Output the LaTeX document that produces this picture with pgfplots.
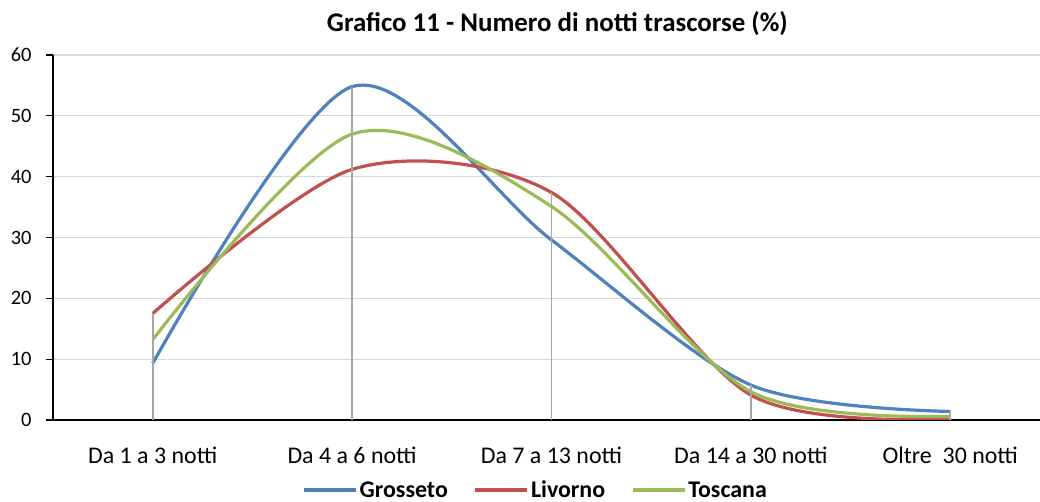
\documentclass[border=0pt]{standalone}
\usepackage{pgfplots}
\pgfplotsset{compat=1.18}
\usepackage{fontspec}
\setmainfont{Carlito}
\definecolor{cblue}{HTML}{4F81BD}
\definecolor{cred}{HTML}{C0504D}
\definecolor{cgreen}{HTML}{9BBB59}
\definecolor{cgrid}{HTML}{D9D9D9}
\definecolor{cdrop}{HTML}{A6A6A6}
\begin{document}
\begin{tikzpicture}
\useasboundingbox (0bp,0bp) rectangle (1040bp,502bp);
\begin{axis}[
  at={(53bp,82bp)}, anchor=south west,
  scale only axis, width=987bp, height=365bp,
  xmin=-0.5, xmax=4.45, ymin=0, ymax=60,
  xtick={0,1,2,3,4},
  xticklabels={Da 1 a 3 notti, Da 4 a 6 notti, Da 7 a 13 notti, Da 14 a 30 notti, Oltre\ \ 30 notti},
  ytick={0,10,...,60},
  axis lines=left,
  axis line style={-, line width=1.3bp, black},
  ymajorgrids, grid style={cgrid, line width=1.3bp},
  tick align=outside, major tick length=7bp,
  ytick style={black, line width=1.2bp},
  xtick style={draw=none},
  yticklabel style={font=\fontsize{20.5}{24}\selectfont, xshift=-11bp},
  xticklabel style={font=\fontsize{24}{28}\selectfont, yshift=-16bp},
  /pgf/number format/assume math mode=true,
  title={Grafico 11 - Numero di notti trascorse (\%)},
  title style={at={(0.511,1.07)}, anchor=center, font=\bfseries\fontsize{27}{31}\selectfont},
  legend columns=3,
  legend style={at={(0.489,-0.192)}, anchor=center, draw=none, fill=none,
    font=\bfseries\fontsize{24}{28}\selectfont,
    /tikz/every even column/.append style={column sep=24bp}},
  legend image code/.code={\draw[#1, line width=3.2bp] (0bp,0bp) -- (52bp,0bp);},
]
\addplot[cblue, line width=3.2bp, smooth, tension=0.5] coordinates {(0,9.3) (1,54.8) (2,29.6) (3,5.75) (4,1.4)};
\addlegendentry{Grosseto}
\addplot[cred, line width=3.2bp, smooth, tension=0.5] coordinates {(0,17.5) (1,41.2) (2,37.4) (3,4.1) (4,0.2)};
\addlegendentry{Livorno}
\addplot[cgreen, line width=3.2bp, smooth, tension=0.5] coordinates {(0,13.2) (1,47.0) (2,35.1) (3,4.65) (4,0.6)};
\addlegendentry{Toscana}
\addplot[ycomb, cdrop, line width=1.8bp, forget plot] coordinates {(0,17.5) (1,54.8) (2,37.4) (3,5.75) (4,1.4)};
\end{axis}
\end{tikzpicture}
\end{document}
